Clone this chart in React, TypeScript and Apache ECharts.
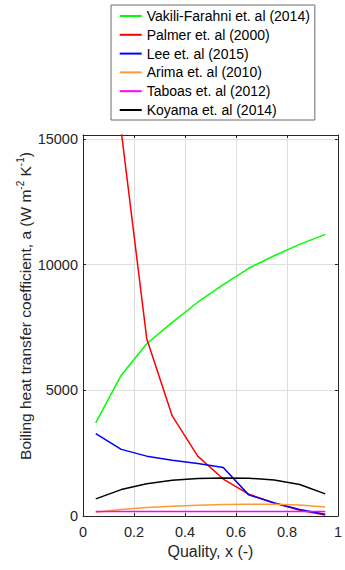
import React, { useEffect, useRef } from 'react';
import * as echarts from 'echarts';

const quality = [0.05, 0.15, 0.25, 0.35, 0.45, 0.55, 0.65, 0.75, 0.85, 0.95];
const seriesNames = [
  'Vakili-Farahni et. al (2014)',
  'Palmer et. al (2000)',
  'Lee et. al (2015)',
  'Arima et. al (2010)',
  'Taboas et. al (2012)',
  'Koyama et. al (2014)',
];
const vakili = [3700, 5600, 6850, 7700, 8500, 9200, 9850, 10350, 10800, 11200];
const palmer = [30000, 15300, 7050, 3980, 2380, 1470, 870, 520, 230, 40];
const lee = [3280, 2650, 2380, 2220, 2090, 1930, 840, 520, 260, 70];
const arima = [150, 260, 340, 390, 430, 455, 470, 470, 440, 360];
const taboas = [175, 177, 178, 178, 178, 178, 178, 178, 178, 178];
const koyama = [680, 1050, 1280, 1420, 1490, 1515, 1500, 1435, 1250, 880];
const xTickValues = [0, 0.2, 0.4, 0.6, 0.8, 1];
const yTickValues = [0, 5000, 10000, 15000];

const seriesValues = [vakili, palmer, lee, arima, taboas, koyama];
const colors = ['#00ff00', '#ff0000', '#0000ff', '#ff9933', '#ff00ff', '#000000'];

const FONT = 'Liberation Sans, Arial, sans-serif';
const AXIS_COLOR = '#262626';

export default function App() {
  const ref = useRef<HTMLDivElement>(null);
  useEffect(() => {
    if (!ref.current) return;
    const chart = echarts.init(ref.current, undefined, { renderer: 'svg' });
    const xInterval = xTickValues[1] - xTickValues[0];
    const yInterval = yTickValues[1] - yTickValues[0];
    const yMax = 15150;
    const axisCommon = {
      axisLine: { show: true, onZero: false, lineStyle: { color: AXIS_COLOR, width: 1 } },
      axisTick: { show: true, inside: true, length: 3, lineStyle: { color: AXIS_COLOR, width: 1 } },
    };
    const option: any = {
      animation: false,
      backgroundColor: '#ffffff',
      textStyle: { fontFamily: FONT },
      legend: {
        data: seriesNames,
        orient: 'vertical',
        left: 111,
        top: 5,
        padding: [3, 5, 2, 8.7],
        itemWidth: 22,
        itemHeight: 2,
        icon: 'rect',
        itemGap: 2.8,
        selectedMode: false,
        textStyle: { fontSize: 14, fontFamily: FONT, color: '#000000', lineHeight: 16 },
        backgroundColor: '#ffffff',
        borderColor: '#6b6b6b',
        borderWidth: 1,
        borderRadius: 0,
      },
      grid: { left: 83, top: 135, width: 260, height: 381, containLabel: false },
      xAxis: [
        {
          type: 'value',
          min: xTickValues[0],
          max: xTickValues[xTickValues.length - 1],
          interval: xInterval,
          position: 'bottom',
          name: 'Quality, x (-)',
          nameLocation: 'middle',
          nameGap: 21,
          nameTextStyle: { fontSize: 16, fontFamily: FONT, color: AXIS_COLOR },
          ...axisCommon,
          axisLabel: {
            fontSize: 14.5,
            fontFamily: FONT,
            color: AXIS_COLOR,
            margin: 8,
            formatter: (v: number) => String(v),
          },
          splitLine: { show: true, lineStyle: { color: '#dedede', width: 1 } },
        },
        {
          type: 'value',
          min: xTickValues[0],
          max: xTickValues[xTickValues.length - 1],
          interval: xInterval,
          position: 'top',
          ...axisCommon,
          axisLabel: { show: false },
          splitLine: { show: false },
        },
      ],
      yAxis: [
        {
          type: 'value',
          min: yTickValues[0],
          max: yMax,
          interval: yInterval,
          position: 'left',
          ...axisCommon,
          axisLabel: {
            fontSize: 14.5,
            fontFamily: FONT,
            color: AXIS_COLOR,
            margin: 5,
            showMaxLabel: false,
            formatter: (v: number) => String(v),
          },
          splitLine: { show: true, lineStyle: { color: '#dedede', width: 1 } },
        },
        {
          type: 'value',
          min: yTickValues[0],
          max: yMax,
          interval: yInterval,
          position: 'right',
          ...axisCommon,
          axisLabel: { show: false },
          splitLine: { show: false },
        },
      ],
      graphic: [
        {
          type: 'text',
          x: 25,
          y: 306,
          rotation: Math.PI / 2,
          style: {
            text: '{m|Boiling heat transfer coefficient, a (W m}{s|-2}{m| K}{s|-1}{m|)}',
            align: 'center',
            verticalAlign: 'middle',
            rich: {
              m: { fontSize: 15.5, fontFamily: FONT, fill: AXIS_COLOR, lineHeight: 20 },
              s: { fontSize: 10, fontFamily: FONT, fill: AXIS_COLOR, lineHeight: 11, verticalAlign: 'top' },
            },
          },
        },
      ],
      series: seriesValues.map((vals, i) => ({
        name: seriesNames[i],
        type: 'line',
        xAxisIndex: 0,
        yAxisIndex: 0,
        data: quality.map((q, j) => [q, vals[j]]),
        symbol: 'none',
        showSymbol: false,
        clip: true,
        lineStyle: { width: 1.5, color: colors[i] },
        itemStyle: { color: colors[i] },
      })),
    };
    chart.setOption(option);
    return () => chart.dispose();
  }, []);
  return (
    <div
      ref={ref}
      style={{ position: 'fixed', left: 0, top: 0, width: 345, height: 570, background: '#fff' }}
    />
  );
}
